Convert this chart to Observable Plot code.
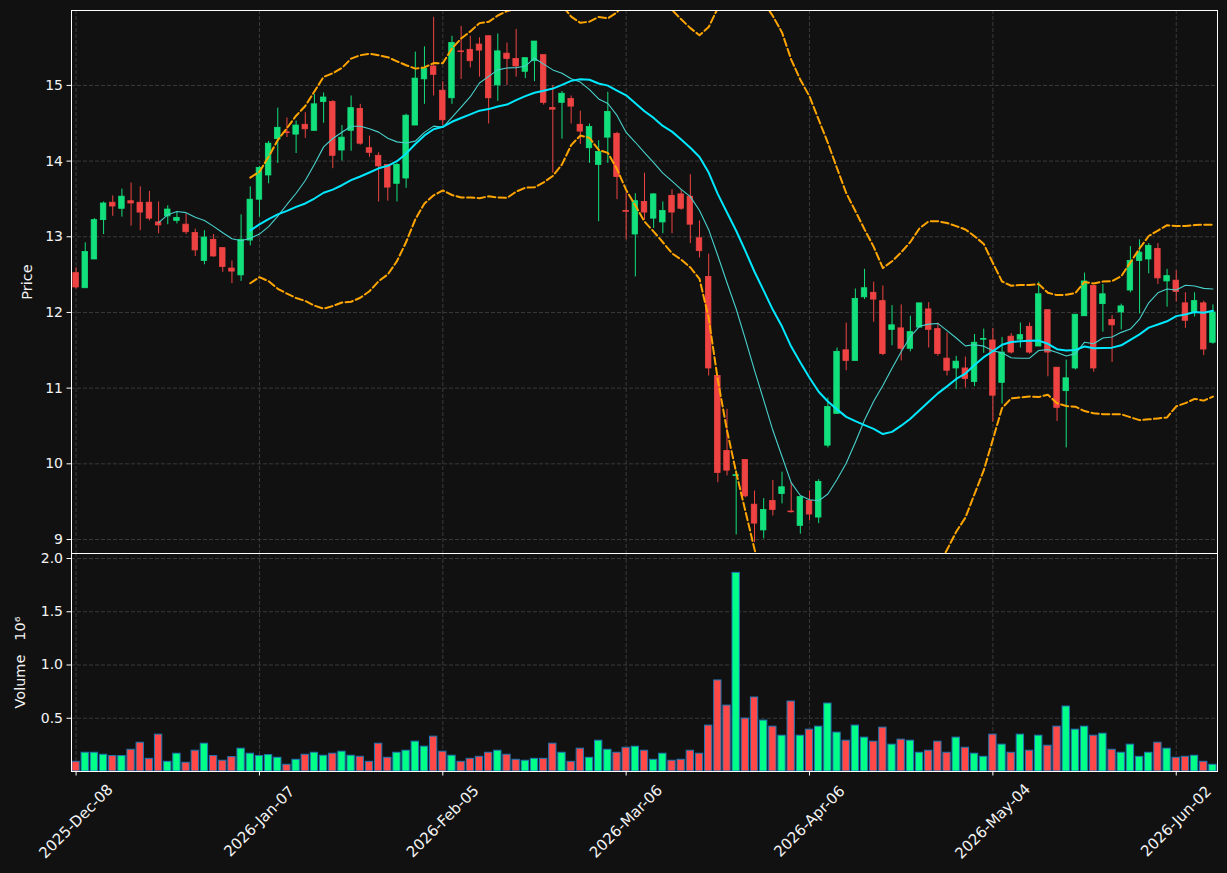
<!DOCTYPE html>
<html><head><meta charset="utf-8">
<script src="https://cdn.jsdelivr.net/npm/d3@7"></script>
<script src="https://cdn.jsdelivr.net/npm/@observablehq/plot@0.6"></script>
<style>
html,body{margin:0;padding:0;background:#111111;overflow:hidden;}
#chart svg{display:block;max-width:none;}
#chart svg text{font-family:"DejaVu Sans",sans-serif;white-space:pre;}
</style></head><body><div id="chart"></div>
<script>
// ---- data (price in $, volume in millions), one entry per trading day ----
const opens = [12.52,12.32,12.70,13.22,13.45,13.37,13.47,13.45,13.45,13.19,
13.27,13.21,13.16,13.05,12.68,12.96,12.85,12.58,12.49,12.95,
13.49,13.81,14.29,14.38,14.35,14.48,14.40,14.78,14.78,14.14,
14.40,14.69,14.17,14.07,13.95,13.70,13.77,14.47,15.08,15.25,
14.93,14.83,15.45,15.47,15.54,15.65,15.00,15.42,15.35,15.18,
15.32,15.40,14.70,14.77,14.82,14.48,14.17,13.95,14.31,14.36,
13.34,13.03,13.46,13.24,13.19,13.54,13.56,13.53,12.98,12.47,
11.16,10.17,9.84,10.05,9.46,9.12,9.51,9.60,9.37,9.18,
9.51,9.29,10.24,10.66,11.50,11.36,12.20,12.26,12.15,11.77,
11.79,11.52,11.80,12.04,11.78,11.39,11.26,11.26,11.08,11.64,
11.63,11.07,11.68,11.64,11.81,11.55,12.03,11.27,10.96,11.26,
11.95,12.35,12.11,11.90,12.00,12.29,12.68,12.70,12.84,12.41,
12.42,12.12,12.00,12.12,11.60];
const highs = [12.59,12.92,13.24,13.46,13.54,13.63,13.71,13.66,13.60,13.46,
13.41,13.33,13.30,13.10,13.08,13.03,12.85,12.68,13.29,13.66,
13.93,14.26,14.70,14.57,14.53,14.64,14.88,14.90,14.80,14.47,
14.86,14.75,14.33,14.11,13.95,13.97,14.62,15.44,15.51,15.90,
15.05,15.65,15.78,15.65,15.63,15.65,15.68,15.56,15.74,15.36,
15.58,15.40,15.00,14.92,14.86,14.66,14.49,14.27,14.91,14.38,
13.58,13.57,13.84,13.57,13.46,13.62,13.62,13.82,13.21,12.77,
11.16,10.72,9.91,10.05,9.64,9.54,9.78,9.89,9.75,9.56,
9.64,9.79,10.87,11.53,11.86,12.31,12.57,12.40,12.35,12.09,
12.10,11.95,12.12,12.13,11.86,11.73,11.42,11.41,11.71,11.78,
11.79,11.67,11.72,11.86,11.86,12.40,12.03,11.27,11.37,11.97,
12.52,12.35,12.37,11.96,12.11,12.87,12.96,12.91,12.91,12.57,
12.55,12.26,12.26,12.15,12.10];
const lows = [12.31,12.32,12.70,13.03,13.27,13.26,13.14,13.08,13.21,13.04,
13.16,13.17,13.03,12.74,12.63,12.73,12.53,12.38,12.41,12.88,
13.26,13.70,13.97,14.31,14.10,14.30,14.40,14.50,13.90,14.00,
14.13,14.21,14.05,13.46,13.47,13.46,13.64,14.47,14.75,14.86,
14.47,14.75,15.08,15.23,15.11,14.49,14.79,15.00,15.11,15.09,
15.05,14.74,13.84,14.29,14.49,14.22,13.97,13.20,13.97,13.49,
12.96,12.47,13.22,13.11,13.04,13.04,13.35,12.91,12.72,11.16,
9.75,9.84,9.06,9.55,8.96,9.01,9.31,9.47,9.35,9.07,
9.25,9.21,10.21,10.66,11.23,11.36,12.17,11.87,11.43,11.56,
11.36,11.48,11.80,11.53,11.42,11.16,10.98,11.00,11.02,11.46,
10.55,10.79,11.45,11.53,11.45,11.55,11.15,10.56,10.21,11.24,
11.95,11.21,11.74,11.34,11.77,12.26,11.98,12.51,12.37,12.07,
12.14,11.79,11.94,11.43,11.58];
const closes = [12.33,12.80,13.22,13.44,13.40,13.53,13.44,13.32,13.24,13.15,
13.36,13.25,13.06,12.82,12.99,12.74,12.60,12.54,12.96,13.49,
13.91,14.23,14.44,14.37,14.47,14.42,14.75,14.84,14.07,14.31,
14.70,14.23,14.11,13.93,13.65,13.95,14.60,15.09,15.22,15.14,
14.54,15.56,15.44,15.32,15.46,14.83,15.45,15.35,15.25,15.36,
15.58,14.77,14.68,14.89,14.72,14.39,14.45,14.12,14.65,13.79,
13.33,13.47,13.32,13.56,13.34,13.32,13.37,13.16,12.81,11.26,
9.88,9.91,9.85,9.57,9.21,9.39,9.39,9.69,9.36,9.56,
9.33,9.76,10.75,11.48,11.36,12.18,12.32,12.17,11.45,11.83,
11.52,11.74,12.12,11.77,11.45,11.23,11.35,11.12,11.60,11.65,
10.90,11.47,11.47,11.70,11.47,12.24,11.47,10.74,11.13,11.97,
12.41,11.26,12.24,11.83,12.08,12.68,12.79,12.88,12.45,12.48,
12.27,11.89,12.15,11.51,12.00];
const volumes = [0.091,0.176,0.176,0.157,0.145,0.145,0.204,0.270,0.119,0.346,
0.091,0.167,0.082,0.195,0.261,0.145,0.101,0.135,0.214,0.167,
0.145,0.154,0.129,0.063,0.110,0.157,0.176,0.148,0.167,0.186,
0.148,0.138,0.091,0.261,0.129,0.176,0.195,0.280,0.233,0.327,
0.186,0.148,0.091,0.119,0.138,0.176,0.195,0.157,0.110,0.101,
0.119,0.119,0.261,0.176,0.091,0.214,0.129,0.289,0.204,0.176,
0.223,0.233,0.195,0.110,0.167,0.101,0.110,0.195,0.167,0.431,
0.855,0.619,1.865,0.497,0.695,0.478,0.421,0.336,0.657,0.336,
0.393,0.421,0.638,0.365,0.289,0.431,0.318,0.280,0.412,0.252,
0.299,0.289,0.176,0.195,0.280,0.176,0.318,0.223,0.167,0.138,
0.346,0.252,0.176,0.346,0.195,0.336,0.242,0.421,0.610,0.393,
0.421,0.336,0.355,0.204,0.176,0.252,0.138,0.176,0.270,0.214,
0.129,0.138,0.148,0.091,0.063];
const tickIndex = [0,20,40,60,80,100,120];
const tickLabels = ["2025-Dec-08","2026-Jan-07","2026-Feb-05","2026-Mar-06","2026-Apr-06","2026-May-04","2026-Jun-02"];
const priceTicks = [9,10,11,12,13,14,15];
const volumeTicks = [0.5,1.0,1.5,2.0];

const data = closes.map((c, i) => ({i, open: opens[i], high: highs[i], low: lows[i], close: c, vol: volumes[i], up: c >= opens[i]}));

const TXT = "#f4f4f4", GRID = "#3a3a3a";
const UP = "#12e07c", DOWN = "#ef4343", VUP = "#00ff88", VDOWN = "#ff4848";

const common = {
  width: 1227, marginLeft: 71, marginRight: 10,
  x: {domain: [-0.5, 124.5], axis: null},
  style: "background:#111111;color:#f4f4f4;font-family:'DejaVu Sans',sans-serif;font-size:14px;overflow:visible;"
};
const gridOpts = {stroke: GRID, strokeOpacity: 1, strokeWidth: 1, strokeDasharray: "4,2"};
const bandStyle = {stroke: "#ffa500", strokeWidth: 2, strokeDasharray: "7.4,3.2", clip: true};

const bandUpper = v => d3.mean(v) + 2 * d3.deviation(v);
const bandLower = v => d3.mean(v) - 2 * d3.deviation(v);

const price = Plot.plot({
  ...common,
  height: 553, marginTop: 10, marginBottom: 0,
  y: {domain: [8.815, 15.99], axis: null},
  marks: [
    Plot.gridX(tickIndex, gridOpts),
    Plot.gridY(priceTicks, gridOpts),
    Plot.ruleX(data, {x: "i", y1: "low", y2: "high", stroke: d => d.up ? UP : DOWN, strokeWidth: 1}),
    Plot.rect(data, {x1: d => d.i - 0.3, x2: d => d.i + 0.3, y1: "open", y2: "close",
      fill: d => d.up ? UP : DOWN, stroke: d => d.up ? UP : DOWN, strokeWidth: 0.8}),
    Plot.lineY(data, Plot.windowY({k: 10, anchor: "end", strict: true, reduce: "mean"},
      {x: "i", y: "close", stroke: "#48d1cc", strokeWidth: 1.1})),
    Plot.lineY(data, Plot.windowY({k: 20, anchor: "end", strict: true, reduce: "mean"},
      {x: "i", y: "close", stroke: "#00e8ff", strokeWidth: 2})),
    Plot.lineY(data, Plot.windowY({k: 20, anchor: "end", strict: true, reduce: bandUpper},
      {x: "i", y: "close", ...bandStyle})),
    Plot.lineY(data, Plot.windowY({k: 20, anchor: "end", strict: true, reduce: bandLower},
      {x: "i", y: "close", ...bandStyle})),
    Plot.frame({stroke: "white", strokeWidth: 1}),
    Plot.axisY(priceTicks, {tickSize: 4.5, tickPadding: 4, stroke: "white", fill: TXT, label: null, tickFormat: d => String(d), fontSize: 14}),
    Plot.text(["Price"], {frameAnchor: "left", dx: -44, rotate: -90, text: d => d, fill: TXT, fontSize: 14.5, textAnchor: "middle"})
  ]
});

const volume = Plot.plot({
  ...common,
  height: 320, marginTop: 0, marginBottom: 102,
  y: {domain: [0, 2.047], axis: null},
  marks: [
    Plot.gridX(tickIndex, gridOpts),
    Plot.gridY(volumeTicks, gridOpts),
    Plot.rect(data, {x1: d => d.i - 0.4, x2: d => d.i + 0.4, y1: d => 0, y2: "vol",
      fill: d => d.up ? VUP : VDOWN, stroke: "#1f77b4", strokeWidth: 1}),
    Plot.frame({stroke: "white", strokeWidth: 1}),
    Plot.axisY(volumeTicks, {tickSize: 4.5, tickPadding: 4, stroke: "white", fill: TXT, label: null, tickFormat: d3.format(".1f"), fontSize: 14}),
    Plot.axisX(tickIndex, {anchor: "bottom", tickSize: 4.5, stroke: "white", label: null, tickFormat: () => ""}),
    Plot.text(tickIndex, {x: d => d, frameAnchor: "bottom", dy: 50, rotate: -45, text: (d, k) => tickLabels[k],
      textAnchor: "middle", lineAnchor: "middle", fill: TXT, fontSize: 15}),
    Plot.text(["Volume   10\u2076"], {frameAnchor: "left", dx: -51, rotate: -90, text: d => d, fill: TXT, fontSize: 14.5, textAnchor: "middle"})
  ]
});

const root = document.getElementById("chart");
root.appendChild(price);
root.appendChild(volume);
</script></body></html>
